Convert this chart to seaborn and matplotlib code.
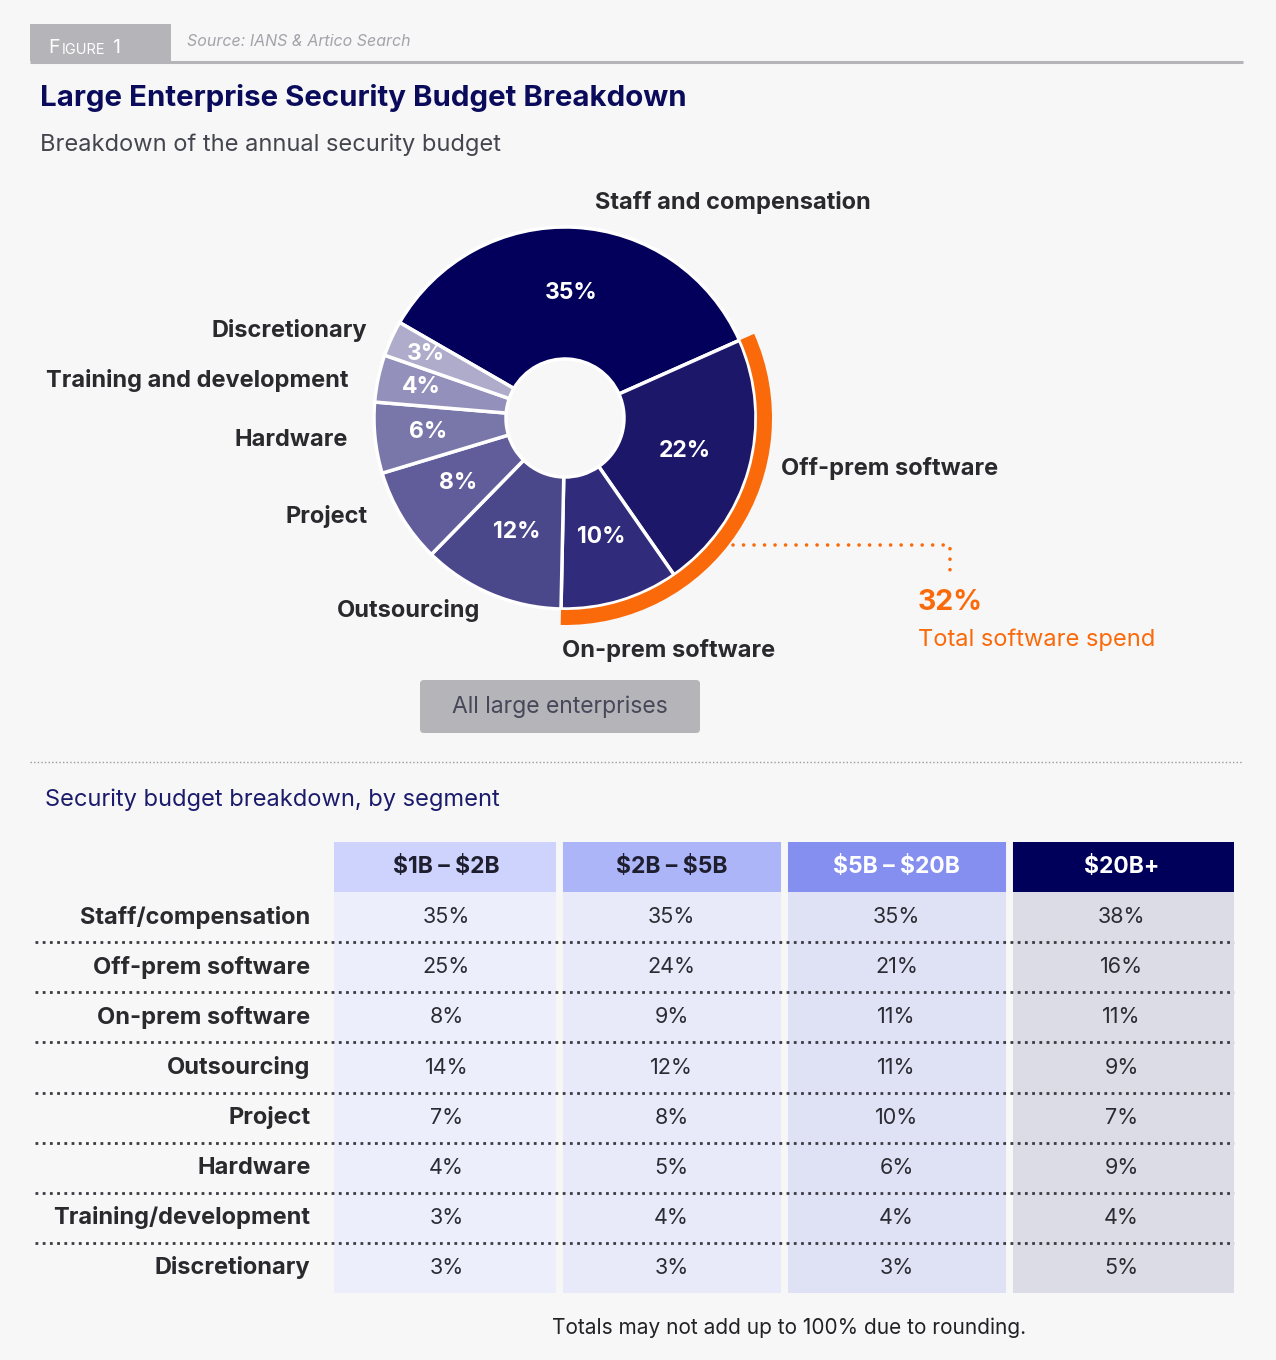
import numpy as np
import pandas as pd
import matplotlib
matplotlib.use("Agg")
import matplotlib.pyplot as plt
import seaborn as sns
from matplotlib.colors import ListedColormap
from matplotlib.patches import Wedge, FancyBboxPatch, Rectangle

# ---- data ----
categories = ["Staff and compensation", "Off-prem software", "On-prem software",
              "Outsourcing", "Project", "Hardware", "Training and development",
              "Discretionary"]
all_shares = [35, 22, 10, 12, 8, 6, 4, 3]
software_total = 32

segments = ["$1B – $2B", "$2B – $5B", "$5B – $20B", "$20B+"]
row_labels = ["Staff/compensation", "Off-prem software", "On-prem software",
              "Outsourcing", "Project", "Hardware", "Training/development",
              "Discretionary"]
seg_1b_2b = [35, 25, 8, 14, 7, 4, 3, 3]
seg_2b_5b = [35, 24, 9, 12, 8, 5, 4, 3]
seg_5b_20b = [35, 21, 11, 11, 10, 6, 4, 3]
seg_20b_plus = [38, 16, 11, 9, 7, 9, 4, 5]

# ---- style ----
W, H = 1276, 1360
BG = "#f7f7f7"
NAVY = "#0b0b5c"
DARK = "#2a2a2e"
ORANGE = "#fa6a0a"
GREY = "#b4b4b9"
slice_colors = ["#02005a", "#1c1769", "#302b7a", "#4b478b",
                "#615d9a", "#7976aa", "#9390bb", "#aeabcb"]
body_colors = ["#eceefb", "#e8eafa", "#dfe2f5", "#dcdce6"]
head_colors = ["#cdd3fc", "#adb5f9", "#848ff0", "#00005a"]

sns.set_theme(style="white")
plt.rcParams['font.family'] = ['Inter', 'DejaVu Sans']
plt.rcParams['text.parse_math'] = False

fig = plt.figure(figsize=(W / 100, H / 100), dpi=100, facecolor=BG)


def px_axes(x0, y0, x1, y1):
    return fig.add_axes([x0 / W, 1 - y1 / H, (x1 - x0) / W, (y1 - y0) / H])


# overlay in pixel coords for texts and decorations
ov = px_axes(0, 0, W, H)
ov.set_xlim(0, W)
ov.set_ylim(H, 0)
ov.axis("off")
ov.patch.set_alpha(0)

# header
ov.add_patch(Rectangle((30, 24), 141, 37, color=GREY, lw=0))
ov.plot([30, 1243], [61.5, 61.5], color=GREY, lw=2.2, solid_capstyle="butt")
t1 = ov.text(48, 53, "F", fontsize=14, color="white", va="baseline")
t2 = ov.annotate("IGURE", xy=(1, 0), xycoords=t1, xytext=(1.5, 0),
                 textcoords="offset points", fontsize=10.5, color="white",
                 va="bottom")
ov.annotate("1", xy=(1, 0), xycoords=t2, xytext=(5, 0),
            textcoords="offset points", fontsize=14, color="white", va="bottom")
ov.text(187, 41, "Source: IANS & Artico Search", fontsize=11.5, style="italic",
        color="#a3a3aa", va="center")

ov.text(40, 98, "Large Enterprise Security Budget Breakdown", fontsize=21.2,
        fontweight="bold", color=NAVY, va="center")
ov.text(40, 145, "Breakdown of the annual security budget", fontsize=17,
        color="#45454f", va="center")

# ---- donut ----
cx, cy, R, r_in = 565, 418, 191, 59
half = 230
ax_pie = px_axes(cx - half, cy - half, cx + half, cy + half)
ax_pie.patch.set_alpha(0)
wedges, _ = ax_pie.pie(all_shares, colors=slice_colors, startangle=150,
                       counterclock=False, radius=1,
                       wedgeprops=dict(width=(R - r_in) / R, edgecolor="white",
                                       linewidth=2.5))
ax_pie.set_xlim(-half / R, half / R)
ax_pie.set_ylim(-half / R, half / R)
ax_pie.set_aspect("equal")
ax_pie.axis("off")

# inner labels
label_r = [0.655, 0.65, 0.65, 0.65, 0.655, 0.72, 0.77, 0.80]
for w, val, lr in zip(wedges, all_shares, label_r):
    ang = np.deg2rad((w.theta1 + w.theta2) / 2)
    ax_pie.text(lr * np.cos(ang), lr * np.sin(ang), f"{val}%", color="white",
                fontsize=16.5, fontweight="bold", ha="center", va="center")

# orange arc spanning the software slices
arc = Wedge((0, 0), 207 / R, wedges[2].theta1, wedges[1].theta2,
            width=15 / R, color=ORANGE, lw=0)
ax_pie.add_patch(arc)

# outer category labels
lab_kw = dict(fontsize=17, fontweight="bold", color=DARK, va="center")
ov.text(733, 203, categories[0], ha="center", **lab_kw)
ov.text(781, 469, categories[1], ha="left", **lab_kw)
ov.text(562, 650, categories[2], ha="left", **lab_kw)
ov.text(480, 611, categories[3], ha="right", **lab_kw)
ov.text(368, 517, categories[4], ha="right", **lab_kw)
ov.text(348, 440, categories[5], ha="right", **lab_kw)
ov.text(349, 381, categories[6], ha="right", **lab_kw)
ov.text(367, 331, categories[7], ha="right", **lab_kw)

# software callout
ov.plot([733, 950, 950], [545, 545, 578], color=ORANGE, lw=2.6,
        linestyle=(0, (0.01, 2.9)), dash_capstyle="round")
ov.text(918, 603, f"{software_total}%", fontsize=20.5, fontweight="bold",
        color=ORANGE, va="center")
ov.text(918, 640, "Total software spend", fontsize=17, color=ORANGE,
        va="center")

# button
ov.add_patch(FancyBboxPatch((420, 680), 280, 53,
                            boxstyle="round,pad=0,rounding_size=4",
                            color=GREY, lw=0))
ov.text(560, 707, "All large enterprises", fontsize=16.5, color="#474759",
        ha="center", va="center")

# separator
ov.plot([30, 1243], [762, 762], color="#9a9aa0", lw=1.0,
        linestyle=(0, (1, 1.6)))
ov.text(45, 800, "Security budget breakdown, by segment", fontsize=17,
        color="#1b1b6b", va="center")

# ---- table ----
table_df = pd.DataFrame({segments[0]: seg_1b_2b, segments[1]: seg_2b_5b,
                         segments[2]: seg_5b_20b, segments[3]: seg_20b_plus},
                        index=row_labels)
n_rows, n_cols = table_df.shape
color_idx = np.vstack([np.arange(n_cols) + n_cols,
                       np.tile(np.arange(n_cols), (n_rows, 1))])
annot = np.vstack([np.array(segments, dtype=object),
                   table_df.map(lambda v: f"{v}%").to_numpy()])
cmap = ListedColormap(body_colors + head_colors)

ax_tab = px_axes(334, 842, 1234, 1293)
sns.heatmap(color_idx, cmap=cmap, vmin=-0.5, vmax=2 * n_cols - 0.5,
            cbar=False, annot=annot, fmt="", linewidths=0,
            xticklabels=False, yticklabels=[""] + row_labels, ax=ax_tab,
            annot_kws=dict(fontsize=15.5))
for t in ax_tab.texts:
    x, y = t.get_position()
    col = int(x)
    if y < 1:
        t.set_fontweight("bold")
        t.set_fontsize(16.5)
        t.set_color("white" if col >= 2 else "#1e1e2e")
    else:
        t.set_color("#2b2b33")

ax_tab.tick_params(left=False, bottom=False, pad=11)
for lbl in ax_tab.get_yticklabels():
    lbl.set_fontweight("bold")
    lbl.set_fontsize(17)
    lbl.set_color(DARK)
    lbl.set_rotation(0)
    lbl.set_ha("right")

for c in range(1, n_cols):
    ax_tab.axvline(c, color=BG, lw=5)

left_ext = -(334 - 35) / 225
for rr in range(2, n_rows + 1):
    ax_tab.plot([left_ext, n_cols], [rr, rr], color="#3a3a40", lw=2.0,
                linestyle=(0, (1, 1.6)), clip_on=False)

ov.text(789, 1328, "Totals may not add up to 100% due to rounding.",
        fontsize=15, color="#222226", ha="center", va="center")

fig.savefig("out.png", dpi=100, facecolor=BG)
